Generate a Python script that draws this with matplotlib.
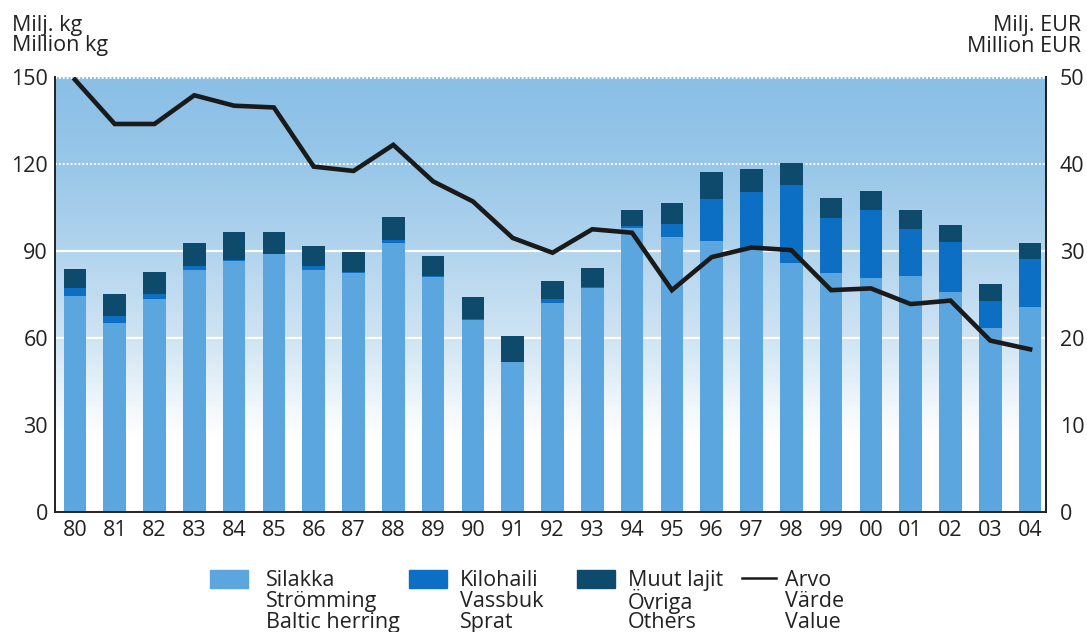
import matplotlib
matplotlib.use("Agg")
import matplotlib.pyplot as plt
import numpy as np
from matplotlib.colors import LinearSegmentedColormap
from matplotlib.patches import Rectangle
from matplotlib.lines import Line2D

plt.rcParams['font.family'] = ['Open Sans', 'DejaVu Sans']

years = ['80', '81', '82', '83', '84', '85', '86', '87', '88', '89', '90', '91',
         '92', '93', '94', '95', '96', '97', '98', '99', '00', '01', '02', '03', '04']
herring = [74.6, 65.2, 73.5, 83.4, 86.6, 88.8, 83.6, 82.5, 92.8, 81.2, 66.3, 51.6,
           72.1, 77.2, 97.9, 94.7, 93.6, 91.0, 85.7, 82.3, 80.7, 81.5, 75.8, 63.5, 70.8]
sprat = [2.6, 2.3, 1.5, 1.3, 0.4, 0.3, 1.1, 0.3, 0.9, 0.1, 0.1, 0.1,
         1.2, 0.3, 0.6, 4.5, 14.5, 19.5, 27.1, 19.2, 23.5, 16.1, 17.2, 9.1, 16.6]
others = [6.6, 7.5, 7.7, 8.1, 9.5, 7.4, 6.9, 6.7, 7.9, 7.0, 7.9, 9.0,
          6.4, 6.6, 5.5, 7.5, 9.0, 7.7, 7.5, 6.8, 6.5, 6.6, 6.1, 6.1, 5.2]
value = [49.7, 44.6, 44.6, 47.9, 46.7, 46.5, 39.7, 39.2, 42.2, 38.0, 35.7, 31.5,
         29.8, 32.5, 32.1, 25.5, 29.3, 30.4, 30.1, 25.5, 25.7, 23.9, 24.3, 19.7, 18.7]
left_ticks = [0, 30, 60, 90, 120, 150]
right_ticks = [0, 10, 20, 30, 40, 50]
legend_labels = [['Silakka', 'Strömming', 'Baltic herring'],
                 ['Kilohaili', 'Vassbuk', 'Sprat'],
                 ['Muut lajit', 'Övriga', 'Others'],
                 ['Arvo', 'Värde', 'Value']]

c_herring = '#5ca6e0'
c_sprat = '#0c6fc4'
c_others = '#0d4a6b'
c_line = '#1a1a1a'
txt = '#222222'
FS = 15.5

W, H = 1087, 632
fig = plt.figure(figsize=(W / 100, H / 100), dpi=100)
ax = fig.add_axes([55 / W, 1 - 512 / H, (1046 - 55) / W, (512 - 77) / H])

x = np.arange(len(years))
xl = (-0.5, len(years) - 0.6)
ax.set_xlim(*xl)
ax.set_ylim(0, 150)

# background gradient
cmap = LinearSegmentedColormap.from_list('bg', [
    (0.0, '#ffffff'), (25 / 150, '#ffffff'), (35 / 150, '#f2f8fc'),
    (60 / 150, '#cfe4f3'), (90 / 150, '#b2d4ee'), (120 / 150, '#98c7e9'),
    (1.0, '#8abfe6')])
grad = np.linspace(0, 1, 300).reshape(-1, 1)
ax.imshow(grad, cmap=cmap, aspect='auto', origin='lower',
          extent=(xl[0], xl[1], 0, 150), zorder=0)

for g in [60, 90]:
    ax.axhline(g, color='white', lw=1.6, zorder=1)
for g in [120, 149.6]:
    ax.axhline(g, color='white', lw=1.4, ls=(0, (1, 1)), zorder=1)

bw = 0.57
ax.bar(x, herring, bw, color=c_herring, zorder=2)
b2 = np.array(herring)
ax.bar(x, sprat, bw, bottom=b2, color=c_sprat, zorder=2)
b3 = b2 + np.array(sprat)
ax.bar(x, others, bw, bottom=b3, color=c_others, zorder=2)

ax.set_xticks(x)
ax.set_xticklabels(years)
ax.set_yticks(left_ticks)
ax.tick_params(axis='both', length=0, labelsize=FS, colors=txt)
ax.tick_params(axis='x', pad=6)
ax.tick_params(axis='y', pad=5)
ax.spines['top'].set_visible(False)
for s in ['left', 'bottom', 'right']:
    ax.spines[s].set_color(txt)
    ax.spines[s].set_linewidth(1.4)

ax2 = ax.twinx()
ax2.set_ylim(0, 50)
ax2.set_yticks(right_ticks)
ax2.tick_params(axis='y', length=0, labelsize=FS, colors=txt, pad=10)
ax2.plot(x, value, color=c_line, lw=3.3, zorder=5, solid_joinstyle='miter')
for s in ['top', 'left', 'bottom']:
    ax2.spines[s].set_visible(False)
ax2.spines['right'].set_color(txt)
ax2.spines['right'].set_linewidth(1.4)

for i, (l, r) in enumerate([('Milj. kg', 'Milj. EUR'), ('Million kg', 'Million EUR')]):
    yy = 1 - (25 + 21 * i) / H
    fig.text(12 / W, yy, l, fontsize=FS, color=txt, va='center', ha='left')
    fig.text(1081 / W, yy, r, fontsize=FS, color=txt, va='center', ha='right')

# legend
keys = [('patch', c_herring, 210, 266), ('patch', c_sprat, 409, 460),
        ('patch', c_others, 577, 628), ('line', c_line, 742, 785)]
for (kind, col, px, tx), labels in zip(keys, legend_labels):
    if kind == 'patch':
        fig.patches.append(Rectangle((px / W, 1 - 588 / H), 38 / W, 18 / H,
                                     transform=fig.transFigure, color=col))
    else:
        fig.lines.append(Line2D([px / W, (px + 34) / W], [1 - 578 / H] * 2,
                                transform=fig.transFigure, color=col, lw=1.8))
    for j, lab in enumerate(labels):
        fig.text(tx / W, 1 - (578 + 21 * j) / H, lab, fontsize=FS, color=txt,
                 va='center_baseline', ha='left')

fig.savefig('out.png', dpi=100)
